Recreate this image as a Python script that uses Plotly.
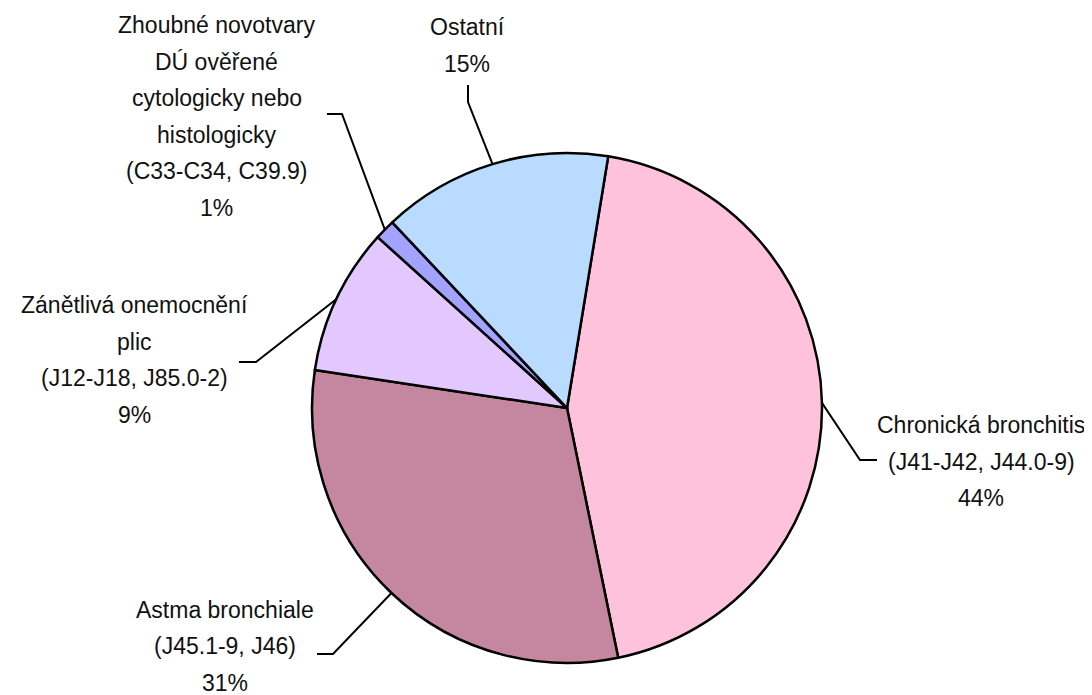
import math
import plotly.graph_objects as go

# ---------------- data ----------------
categories = [
    ["Chronická bronchitis", "(J41-J42, J44.0-9)"],
    ["Astma bronchiale", "(J45.1-9, J46)"],
    ["Zánětlivá onemocnění", "plic", "(J12-J18, J85.0-2)"],
    ["Zhoubné novotvary", "DÚ ověřené", "cytologicky nebo", "histologicky", "(C33-C34, C39.9)"],
    ["Ostatní"],
]
values = [44.2, 30.6, 9.3, 1.3, 14.6]

# ---------------- style ----------------
slice_colors = ["#FFC2DD", "#C5879F", "#E2C8FF", "#A3A3FF", "#B9DBFF"]
W, H = 1092, 695
OFF = 8                              # page body margin in the browser
CX, CY, R = 567, 408, 255            # pie centre / radius in px (screen)
ROTATION = 9.3                       # first slice start (deg, clockwise from 12 o'clock)
LINE_GAP = 36.5                      # px between text lines
FONT = dict(family="Liberation Sans, Arial, sans-serif", size=23, color="#111111")

# label placement (screen px): elbow point, line end, text block centre
label_layout = [
    dict(elbow=(860, 460), end=(877, 460), text=(981, 461.5)),
    dict(elbow=(333, 654), end=(317, 654), text=(225, 646)),
    dict(elbow=(256, 362), end=(239, 362), text=(134, 360)),
    dict(elbow=(342, 114), end=(327, 114), text=(217, 116.5)),
    dict(elbow=(468, 102), end=(468, 85), text=(467, 45.5)),
]

def px(x):
    return (x - OFF) / W

def py(y):
    return 1 - (y - OFF) / H

fig = go.Figure()
fig.add_trace(go.Pie(
    labels=[" ".join(c) for c in categories],
    values=values,
    sort=False,
    direction="clockwise",
    rotation=ROTATION,
    textinfo="none",
    hoverinfo="label+percent",
    marker=dict(colors=slice_colors, line=dict(color="#000000", width=2.5)),
    domain=dict(x=[px(CX - R), px(CX + R)], y=[py(CY + R), py(CY - R)]),
    showlegend=False,
))

total = sum(values)
cum = ROTATION
shapes = []
annotations = []
for cat, v, lay in zip(categories, values, label_layout):
    a0 = cum
    a1 = cum + v / total * 360
    cum = a1
    mid = math.radians((a0 + a1) / 2)
    ax = CX + R * math.sin(mid)
    ay = CY - R * math.cos(mid)
    ex, ey = lay["elbow"]
    lx, ly = lay["end"]
    path = f"M {px(ax)} {py(ay)} L {px(ex)} {py(ey)} L {px(lx)} {py(ly)}"
    shapes.append(dict(type="path", xref="paper", yref="paper", path=path,
                       line=dict(color="#000000", width=2)))
    pct = round(v / total * 100)
    lines = list(cat) + [f"{pct}%"]
    tx, ty = lay["text"]
    n = len(lines)
    for i, line in enumerate(lines):
        yy = ty + (i - (n - 1) / 2) * LINE_GAP
        annotations.append(dict(
            text=line, x=px(tx), y=py(yy), xref="paper", yref="paper",
            xanchor="center", yanchor="middle", showarrow=False,
            font=FONT,
        ))

fig.update_layout(
    width=W, height=H,
    margin=dict(l=0, r=0, t=0, b=0),
    paper_bgcolor="white",
    plot_bgcolor="white",
    shapes=shapes,
    annotations=annotations,
)

fig.write_html("out.html")
